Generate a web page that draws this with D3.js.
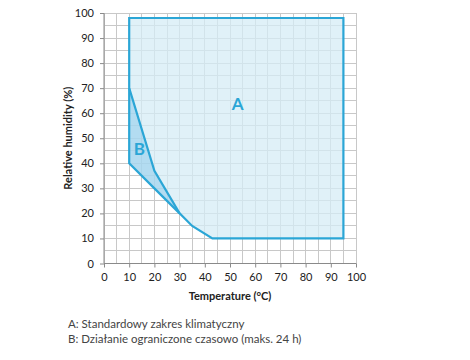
<!DOCTYPE html>
<html><head><meta charset="utf-8">
<script src="https://cdn.jsdelivr.net/npm/d3@7"></script>
<style>body{margin:0;background:#fff;} svg{display:block;}</style>
</head><body>
<script>
const xTicks = [0,10,20,30,40,50,60,70,80,90,100];
const yTicks = [0,10,20,30,40,50,60,70,80,90,100];
const regionA = [[10,98],[95,98],[95,10],[43,10],[35,15],[30,20],[20,37],[10,70]];
const regionB = [[10,70],[20,37],[30,20],[20,30],[10,40]];
const labels = [{t:"A",x:53,y:63},{t:"B",x:14,y:45}];
const legend = ["A: Standardowy zakres klimatyczny","B: Działanie ograniczone czasowo (maks. 24 h)"];

const W=470,H=360;
const svg=d3.select("body").append("svg").attr("width",W).attr("height",H);
const x=d3.scaleLinear().domain([0,100]).range([104,356]);
const y=d3.scaleLinear().domain([0,100]).range([263.5,13]);
const blue="#2ba6d6";

// grid
const g=svg.append("g");
const minor=d3.range(0,101,5);
g.selectAll(".gx").data(minor).join("line")
 .attr("x1",d=>x(d)).attr("x2",d=>x(d)).attr("y1",y(0)).attr("y2",y(100))
 .attr("stroke","#c8c8c8").attr("stroke-width",1).attr("shape-rendering","crispEdges");
g.selectAll(".gy").data(minor).join("line")
 .attr("y1",d=>y(d)).attr("y2",d=>y(d)).attr("x1",x(0)).attr("x2",x(100))
 .attr("stroke","#c8c8c8").attr("stroke-width",1).attr("shape-rendering","crispEdges");

const line=d3.line().x(d=>x(d[0])).y(d=>y(d[1]));
svg.append("path").attr("d",line(regionA)+"Z").attr("fill","#d6ecf6").attr("fill-opacity",0.75).attr("stroke","none");
svg.append("path").attr("d",line(regionB)+"Z").attr("fill","#a6d6ee").attr("fill-opacity",0.85).attr("stroke","none");
svg.append("path").attr("d",line(regionA)+"Z").attr("fill","none").attr("stroke",blue).attr("stroke-width",2.2).attr("stroke-linejoin","miter");
svg.append("path").attr("d",line([[10,70],[10,40],[20,30],[30,20]])).attr("fill","none").attr("stroke",blue).attr("stroke-width",2.2);

// axes
const xa=svg.append("g").attr("transform",`translate(0,${y(0)})`)
 .call(d3.axisBottom(x).tickValues(xTicks).tickSize(4).tickPadding(6).tickSizeOuter(0));
const ya=svg.append("g").attr("transform",`translate(${x(0)},0)`)
 .call(d3.axisLeft(y).tickValues(yTicks).tickSize(4).tickPadding(6).tickSizeOuter(0));
[xa,ya].forEach(a=>{
  a.selectAll("path,line").attr("stroke","#8a8a8a");
  a.selectAll("text").attr("font-family","Lato, 'Open Sans', sans-serif").attr("font-size",11).attr("fill","#222");
});
ya.select(".domain").remove();
xa.select(".domain").remove();
svg.append("line").attr("x1",x(0)).attr("x2",x(0)).attr("y1",y(0)).attr("y2",y(100)).attr("stroke","#8a8a8a");
svg.append("line").attr("x1",x(0)).attr("x2",x(100)).attr("y1",y(0)).attr("y2",y(0)).attr("stroke","#8a8a8a");

svg.selectAll(".lbl").data(labels).join("text")
 .attr("x",d=>x(d.x)).attr("y",d=>y(d.y)).attr("text-anchor","middle").attr("dominant-baseline","middle")
 .attr("font-family","Lato, 'Open Sans', sans-serif").attr("font-size",17).attr("font-weight","bold")
 .attr("fill",blue).text(d=>d.t);

svg.append("text").attr("x",230).attr("y",300).attr("text-anchor","middle")
 .attr("font-family","Lato, 'Open Sans', sans-serif").attr("font-size",11).attr("font-weight","bold").attr("fill","#222")
 .text("Temperature (°C)");
svg.append("text").attr("transform",`translate(72,${y(50)}) rotate(-90)`).attr("text-anchor","middle")
 .attr("font-family","Lato, 'Open Sans', sans-serif").attr("font-size",11).attr("font-weight","bold").attr("fill","#222")
 .text("Relative humidity (%)");

svg.selectAll(".leg").data(legend).join("text")
 .attr("x",68).attr("y",(d,i)=>328+i*15)
 .attr("font-family","Lato, 'Open Sans', sans-serif").attr("font-size",11.5).attr("fill","#444")
 .text(d=>d);
</script>
</body></html>
